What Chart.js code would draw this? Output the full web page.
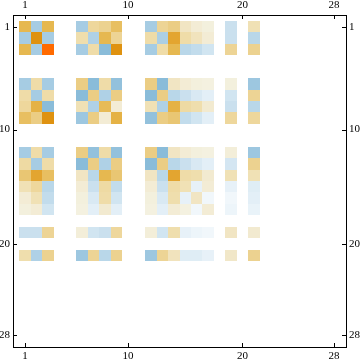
<!DOCTYPE html>
<html><head><meta charset="utf-8">
<script src="https://cdn.jsdelivr.net/npm/chart.js@4/dist/chart.umd.min.js"></script>
<style>html,body{margin:0;padding:0;background:#fff}#wrap{width:360px;height:363px;position:relative}</style>
</head><body><div id="wrap"><canvas id="c"></canvas></div>
<script>
// Row/column indices that carry values (all others are zero)
const indices = [1,2,3,6,7,8,9,12,13,14,15,16,17,19,21];
const tickValues = [1,10,20,28];
// Matrix rows (values in columns listed in `indices`)
const r1  = [0.6,-0.45,0.6, -0.45,0.35,0.4,0.55, -0.45,0.38,0.45,0.2,0.12,0.08, -0.25,0.25];
const r2  = [-0.45,0.85,-0.45, 0.28,-0.4,0.6,0.38, 0.3,-0.42,0.75,0.3,0.22,0.12, -0.25,-0.35];
const r3  = [0.6,-0.45,1.0, -0.45,0.3,-0.6,0.85, -0.45,0.3,0.6,-0.35,-0.3,-0.2, 0.38,0.4];
const r6  = [-0.45,0.3,-0.45, 0.45,-0.6,0.3,-0.55, 0.45,-0.6,0.2,0.12,0.08,0.06, 0.08,-0.5];
const r7  = [0.3,-0.45,0.3, -0.6,0.45,-0.4,0.45, -0.6,0.45,-0.35,-0.25,-0.15,-0.1, -0.2,0.38];
const r8  = [0.35,0.65,-0.6, 0.25,-0.4,0.58,0.12, 0.25,-0.4,0.65,0.32,0.28,0.15, -0.25,-0.35];
const r9  = [0.55,0.45,0.85, -0.5,0.45,0.12,0.65, -0.55,0.45,0.5,-0.3,-0.2,-0.1, 0.35,0.35];
const r12 = [-0.45,0.3,-0.45, 0.45,-0.55,0.3,-0.55, 0.45,-0.6,0.2,0.12,0.08,0.06, 0.1,-0.5];
const r13 = [0.32,-0.45,0.3, -0.6,0.45,-0.4,0.45, -0.6,0.45,-0.35,-0.25,-0.15,-0.1, -0.18,0.4];
const r14 = [0.5,0.75,0.55, 0.2,-0.35,0.6,0.5, 0.2,-0.35,0.75,0.3,0.28,0.15, 0.25,0.25];
const r15 = [0.25,0.35,-0.35, 0.12,-0.25,0.32,-0.3, 0.12,-0.25,0.3,0.25,-0.08,0.12, -0.08,-0.12];
const r16 = [0.12,0.25,-0.3, 0.08,-0.15,0.3,-0.2, 0.08,-0.15,0.28,-0.08,0.2,-0.04, -0.04,-0.1];
const r17 = [0.08,0.12,-0.2, 0.06,-0.1,0.15,-0.1, 0.06,-0.1,0.12,0.06,-0.04,0.12, -0.05,-0.07];
const r19 = [-0.25,-0.25,0.38, 0.1,-0.2,-0.25,0.35, 0.1,-0.2,0.28,-0.08,-0.05,-0.04, 0.2,0.15];
const r21 = [0.28,-0.4,0.4, -0.5,0.38,-0.35,0.4, -0.5,0.38,0.22,-0.12,-0.12,-0.08, 0.18,0.4];
const matrixRows = [r1,r2,r3,r6,r7,r8,r9,r12,r13,r14,r15,r16,r17,r19,r21];

// colour scale (value -> colour)
const anchors = [
  [-0.6,'#8abcd9'],[-0.45,'#a6cce3'],[-0.3,'#c2dcec'],[-0.15,'#d9e9f3'],[-0.05,'#edf5fa'],
  [0,'#ffffff'],[0.05,'#f4f2e2'],[0.15,'#f2ead0'],[0.3,'#efdca8'],[0.45,'#ebcd84'],
  [0.6,'#e6b850'],[0.75,'#e3a530'],[0.85,'#df9210'],[1.0,'#ff6a00']];
function hex(h){return [1,3,5].map(i=>parseInt(h.substr(i,2),16));}
function colorFor(v){
  if (v<=anchors[0][0]) return anchors[0][1];
  for (let i=1;i<anchors.length;i++){
    if (v<=anchors[i][0]){
      const [a,ca]=anchors[i-1],[b,cb]=anchors[i];
      const t=(v-a)/(b-a), A=hex(ca), B=hex(cb);
      return 'rgb('+A.map((x,k)=>Math.round(x+(B[k]-x)*t)).join(',')+')';
    }
  }
  return anchors[anchors.length-1][1];
}

const cells = [];
matrixRows.forEach((row,ri)=>row.forEach((v,ci)=>cells.push({x:indices[ci], y:indices[ri], v})));

const cellPlugin = {
  id:'cells',
  beforeDatasetsDraw(chart){
    const ctx=chart.ctx, xs=chart.scales.x, ys=chart.scales.y;
    chart.data.datasets[0].data.forEach(d=>{
      const x0=Math.round(xs.getPixelForValue(d.x-0.5)), x1=Math.round(xs.getPixelForValue(d.x+0.5));
      const y0=Math.round(ys.getPixelForValue(d.y-0.5)), y1=Math.round(ys.getPixelForValue(d.y+0.5));
      ctx.fillStyle=colorFor(d.v);
      ctx.fillRect(Math.min(x0,x1),Math.min(y0,y1),Math.abs(x1-x0),Math.abs(y1-y0));
    });
  },
  afterDraw(chart){
    const ctx=chart.ctx, a=chart.chartArea, xs=chart.scales.x, ys=chart.scales.y;
    ctx.save(); ctx.strokeStyle='#000'; ctx.lineWidth=1; ctx.beginPath();
    const L=4;
    tickValues.forEach(v=>{
      const px=Math.round(xs.getPixelForValue(v))+0.5;
      ctx.moveTo(px,a.bottom); ctx.lineTo(px,a.bottom-L);
      ctx.moveTo(px,a.top); ctx.lineTo(px,a.top+L);
      const py=Math.round(ys.getPixelForValue(v))+0.5;
      ctx.moveTo(a.left,py); ctx.lineTo(a.left+L,py);
      ctx.moveTo(a.right,py); ctx.lineTo(a.right-L,py);
    });
    ctx.stroke(); ctx.restore();
  }
};

const font = {family:'"Liberation Serif", "DejaVu Serif", serif', size:11};
const setTicks = s => { s.ticks = tickValues.map(v=>({value:v})); };
function axis(pos, extra){
  return Object.assign({
    type:'linear', position:pos, min:-0.04, max:29.04,
    grid:{display:false, drawTicks:false},
    border:{display:true, color:'#000', width:1},
    ticks:{color:'#000', font, padding:3, maxRotation:0, autoSkip:false, callback:v=>String(v)},
    afterBuildTicks:setTicks
  }, extra);
}

new Chart(document.getElementById('c'), {
  type:'scatter',
  data:{datasets:[{data:cells, pointRadius:0, pointHoverRadius:0}]},
  options:{
    responsive:true, maintainAspectRatio:false, animation:false,
    layout:{padding:0},
    plugins:{legend:{display:false}, tooltip:{enabled:false}},
    scales:{
      x: axis('bottom', {afterFit:s=>{s.height=16;}}),
      x2: axis('top', {afterFit:s=>{s.height=15;}}),
      y: axis('left', {reverse:true, min:-0.03, max:29.03, afterFit:s=>{s.width=13;}}),
      y2: axis('right', {reverse:true, min:-0.03, max:29.03, afterFit:s=>{s.width=14;}})
    }
  },
  plugins:[cellPlugin]
});
</script></body></html>
